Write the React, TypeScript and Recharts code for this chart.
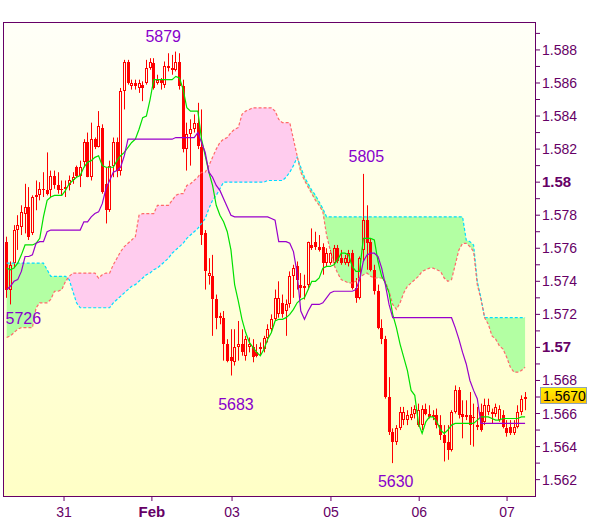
import React from 'react';
import {
  ComposedChart,
  XAxis,
  YAxis,
  Bar,
  Line,
  Area,
  CartesianGrid,
  ReferenceArea,
  ReferenceDot,
} from 'recharts';

// ---------- Data (hourly candles, index 0..141) ----------
const opens = [
  1.5764, 1.5735, 1.5751, 1.5771, 1.5773, 1.5781, 1.5785, 1.5769, 1.5791, 1.5792,
  1.5796, 1.5795, 1.5795, 1.5804, 1.5798, 1.5795, 1.5796, 1.5798, 1.5801, 1.5809,
  1.5804, 1.5812, 1.5824, 1.5803, 1.5826, 1.5821, 1.5833, 1.5799, 1.5783, 1.5810,
  1.5824, 1.5807, 1.5855, 1.5873, 1.5858, 1.5860, 1.5857, 1.5859, 1.5860, 1.5869,
  1.5872, 1.5860, 1.5862, 1.5859, 1.5870, 1.5869, 1.5868, 1.5873, 1.5858, 1.5820,
  1.5829, 1.5832, 1.5836, 1.5821, 1.5769, 1.5743, 1.5743, 1.5729, 1.5718, 1.5718,
  1.5702, 1.5694, 1.5691, 1.5700, 1.5702, 1.5695, 1.5700, 1.5700, 1.5697, 1.5699,
  1.5699, 1.5706, 1.5711, 1.5717, 1.5720, 1.5727, 1.5722, 1.5726, 1.5743, 1.5749,
  1.5738, 1.5736, 1.5738, 1.5762, 1.5764, 1.5761, 1.5761, 1.5751, 1.5751, 1.5751,
  1.5760, 1.5754, 1.5751, 1.5751, 1.5757, 1.5736, 1.5730, 1.5759, 1.5777, 1.5764,
  1.5747, 1.5734, 1.5712, 1.5705, 1.5670, 1.5649, 1.5643, 1.5651, 1.5656, 1.5656,
  1.5657, 1.5660, 1.5653, 1.5653, 1.5663, 1.5660, 1.5658, 1.5659, 1.5653, 1.5647,
  1.5643, 1.5638, 1.5661, 1.5674, 1.5660, 1.5659, 1.5659, 1.5657, 1.5652, 1.5661,
  1.5655, 1.5661, 1.5661, 1.5660, 1.5656, 1.5659, 1.5651, 1.5652, 1.5648, 1.5652,
  1.5661, 1.5669,
];

const highs = [
  1.5767, 1.5752, 1.5774, 1.5780, 1.5786, 1.5799, 1.5797, 1.5792, 1.5801, 1.5800,
  1.5806, 1.5818, 1.5807, 1.5807, 1.5806, 1.5801, 1.5801, 1.5804, 1.5806, 1.5810,
  1.5813, 1.5826, 1.5830, 1.5836, 1.5827, 1.5843, 1.5835, 1.5809, 1.5813, 1.5827,
  1.5827, 1.5857, 1.5874, 1.5874, 1.5862, 1.5862, 1.5862, 1.5861, 1.5874, 1.5875,
  1.5875, 1.5865, 1.5863, 1.5873, 1.5878, 1.5877, 1.5879, 1.5878, 1.5862, 1.5836,
  1.5838, 1.5841, 1.5848, 1.5844, 1.5771, 1.5754, 1.5756, 1.5732, 1.5721, 1.5722,
  1.5705, 1.5711, 1.5711, 1.5716, 1.5711, 1.5707, 1.5706, 1.5705, 1.5702, 1.5703,
  1.5707, 1.5714, 1.5720, 1.5735, 1.5740, 1.5732, 1.5729, 1.5746, 1.5750, 1.5752,
  1.5745, 1.5744, 1.5764, 1.5772, 1.5770, 1.5768, 1.5763, 1.5760, 1.5759, 1.5762,
  1.5762, 1.5759, 1.5756, 1.5759, 1.5759, 1.5742, 1.5755, 1.5805, 1.5786, 1.5766,
  1.5750, 1.5738, 1.5717, 1.5707, 1.5682, 1.5651, 1.5653, 1.5664, 1.5664, 1.5662,
  1.5664, 1.5665, 1.5666, 1.5665, 1.5666, 1.5665, 1.5662, 1.5663, 1.5659, 1.5653,
  1.5653, 1.5662, 1.5677, 1.5676, 1.5668, 1.5668, 1.5673, 1.5666, 1.5664, 1.5666,
  1.5669, 1.5669, 1.5663, 1.5666, 1.5665, 1.5662, 1.5656, 1.5656, 1.5656, 1.5665,
  1.5671, 1.5673,
];

const lows = [
  1.5730, 1.5726, 1.5748, 1.5759, 1.5768, 1.5769, 1.5765, 1.5768, 1.5783, 1.5789,
  1.5791, 1.5792, 1.5791, 1.5796, 1.5793, 1.5792, 1.5791, 1.5795, 1.5799, 1.5803,
  1.5797, 1.5809, 1.5803, 1.5801, 1.5820, 1.5821, 1.5793, 1.5775, 1.5782, 1.5803,
  1.5803, 1.5804, 1.5844, 1.5859, 1.5856, 1.5856, 1.5854, 1.5849, 1.5859, 1.5868,
  1.5856, 1.5859, 1.5856, 1.5857, 1.5867, 1.5865, 1.5867, 1.5856, 1.5818, 1.5807,
  1.5810, 1.5830, 1.5820, 1.5762, 1.5735, 1.5738, 1.5707, 1.5711, 1.5714, 1.5692,
  1.5691, 1.5683, 1.5689, 1.5692, 1.5695, 1.5692, 1.5697, 1.5691, 1.5694, 1.5695,
  1.5697, 1.5703, 1.5709, 1.5716, 1.5718, 1.5718, 1.5707, 1.5724, 1.5730, 1.5735,
  1.5730, 1.5729, 1.5735, 1.5759, 1.5759, 1.5758, 1.5744, 1.5749, 1.5750, 1.5750,
  1.5751, 1.5750, 1.5750, 1.5749, 1.5735, 1.5727, 1.5729, 1.5752, 1.5747, 1.5746,
  1.5732, 1.5711, 1.5702, 1.5669, 1.5647, 1.5630, 1.5641, 1.5650, 1.5653, 1.5653,
  1.5656, 1.5657, 1.5652, 1.5650, 1.5659, 1.5657, 1.5656, 1.5651, 1.5644, 1.5631,
  1.5632, 1.5637, 1.5660, 1.5657, 1.5645, 1.5656, 1.5641, 1.5640, 1.5650, 1.5649,
  1.5653, 1.5659, 1.5654, 1.5658, 1.5655, 1.5651, 1.5646, 1.5647, 1.5647, 1.5651,
  1.5659, 1.5662,
];

const closes = [
  1.5735, 1.5750, 1.5771, 1.5774, 1.5782, 1.5785, 1.5767, 1.5791, 1.5792, 1.5796,
  1.5795, 1.5793, 1.5804, 1.5798, 1.5795, 1.5796, 1.5797, 1.5801, 1.5803, 1.5804,
  1.5809, 1.5824, 1.5803, 1.5826, 1.5821, 1.5834, 1.5794, 1.5783, 1.5810, 1.5824,
  1.5807, 1.5855, 1.5873, 1.5860, 1.5860, 1.5858, 1.5860, 1.5857, 1.5869, 1.5873,
  1.5857, 1.5862, 1.5860, 1.5870, 1.5869, 1.5868, 1.5873, 1.5858, 1.5820, 1.5829,
  1.5832, 1.5836, 1.5822, 1.5768, 1.5746, 1.5745, 1.5729, 1.5718, 1.5719, 1.5702,
  1.5692, 1.5692, 1.5700, 1.5702, 1.5697, 1.5705, 1.5702, 1.5694, 1.5695, 1.5700,
  1.5706, 1.5711, 1.5717, 1.5730, 1.5730, 1.5720, 1.5726, 1.5743, 1.5748, 1.5741,
  1.5736, 1.5737, 1.5764, 1.5760, 1.5761, 1.5759, 1.5751, 1.5757, 1.5757, 1.5760,
  1.5752, 1.5751, 1.5754, 1.5757, 1.5736, 1.5730, 1.5754, 1.5777, 1.5763, 1.5747,
  1.5734, 1.5712, 1.5705, 1.5670, 1.5649, 1.5643, 1.5651, 1.5661, 1.5661, 1.5659,
  1.5660, 1.5663, 1.5662, 1.5663, 1.5660, 1.5658, 1.5659, 1.5653, 1.5647, 1.5642,
  1.5638, 1.5661, 1.5674, 1.5659, 1.5658, 1.5658, 1.5653, 1.5658, 1.5653, 1.5650,
  1.5665, 1.5665, 1.5660, 1.5664, 1.5663, 1.5652, 1.5648, 1.5648, 1.5652, 1.5661,
  1.5669, 1.5670,
];

// Tenkan-sen (green)
const tenkan = [
  1.5748, 1.5747, 1.5748, 1.5751, 1.5756, 1.5762, 1.5762, 1.5762, 1.5763, 1.5766,
  1.5779, 1.5789, 1.5791, 1.5792, 1.5792, 1.5792, 1.5795, 1.5799, 1.5801, 1.5803,
  1.5804, 1.5809, 1.5812, 1.5813, 1.5815, 1.5816, 1.5810, 1.5809, 1.5809, 1.5809,
  1.5813, 1.5816, 1.5818, 1.5821, 1.5824, 1.5826, 1.5832, 1.5839, 1.5840, 1.5850,
  1.5862, 1.5862, 1.5862, 1.5862, 1.5862, 1.5862, 1.5864, 1.5863, 1.5856, 1.5845,
  1.5843, 1.5843, 1.5843, 1.5826, 1.5816, 1.5806, 1.5798, 1.5786, 1.5780, 1.5776,
  1.5770, 1.5759, 1.5738, 1.5728, 1.5717, 1.5709, 1.5703, 1.5700, 1.5697, 1.5695,
  1.5699, 1.5705, 1.5709, 1.5716, 1.5717, 1.5717, 1.5718, 1.5720, 1.5723, 1.5727,
  1.5729, 1.5730, 1.5735, 1.5740, 1.5740, 1.5742, 1.5748, 1.5749, 1.5749, 1.5750,
  1.5753, 1.5757, 1.5757, 1.5756, 1.5749, 1.5746, 1.5746, 1.5766, 1.5766, 1.5766,
  1.5765, 1.5752, 1.5743, 1.5739, 1.5733, 1.5720, 1.5712, 1.5702, 1.5694, 1.5686,
  1.5674, 1.5671, 1.5654, 1.5648, 1.5655, 1.5658, 1.5658, 1.5655, 1.5650, 1.5648,
  1.5650, 1.5653, 1.5654, 1.5654, 1.5654, 1.5654, 1.5654, 1.5654, 1.5656, 1.5658,
  1.5658, 1.5658, 1.5657, 1.5656, 1.5656, 1.5657, 1.5657, 1.5657, 1.5657, 1.5657,
  1.5658, 1.5658,
];

// Kijun-sen (purple)
const kijun = [
  1.5735, 1.5737, 1.5740, 1.5741, 1.5746, 1.5755, 1.5755, 1.5756, 1.5763, 1.5764,
  1.5764, 1.5770, 1.5771, 1.5771, 1.5771, 1.5771, 1.5771, 1.5771, 1.5771, 1.5771,
  1.5771, 1.5776, 1.5776, 1.5779, 1.5781, 1.5782, 1.5787, 1.5796, 1.5801, 1.5806,
  1.5807, 1.5809, 1.5816, 1.5826, 1.5826, 1.5826, 1.5826, 1.5826, 1.5826, 1.5826,
  1.5826, 1.5826, 1.5826, 1.5826, 1.5826, 1.5826, 1.5827, 1.5827, 1.5827, 1.5827,
  1.5827, 1.5827, 1.5830, 1.5824, 1.5818, 1.5806, 1.5803, 1.5798, 1.5795, 1.5790,
  1.5785, 1.5780, 1.5779, 1.5779, 1.5779, 1.5779, 1.5779, 1.5779, 1.5779, 1.5779,
  1.5779, 1.5779, 1.5778, 1.5777, 1.5764, 1.5764, 1.5764, 1.5763, 1.5758, 1.5745,
  1.5722, 1.5717, 1.5722, 1.5726, 1.5726, 1.5726, 1.5727, 1.5730, 1.5733, 1.5734,
  1.5734, 1.5734, 1.5734, 1.5734, 1.5734, 1.5735, 1.5741, 1.5752, 1.5756, 1.5757,
  1.5757, 1.5755, 1.5748, 1.5738, 1.5726, 1.5718, 1.5718, 1.5718, 1.5718, 1.5718,
  1.5718, 1.5718, 1.5718, 1.5718, 1.5718, 1.5718, 1.5718, 1.5718, 1.5718, 1.5718,
  1.5718, 1.5718, 1.5712, 1.5705, 1.5697, 1.5690, 1.5680, 1.5674, 1.5669, 1.5654,
  1.5654, 1.5654, 1.5654, 1.5654, 1.5654, 1.5654, 1.5654, 1.5654, 1.5654, 1.5654,
  1.5654, 1.5654,
];

// Senkou span A (cyan dotted edge)
const spanA = [
  1.5751, 1.5751, 1.5751, 1.5751, 1.5751, 1.5751, 1.5751, 1.5751, 1.5751, 1.5751,
  1.5751, 1.5747, 1.5743, 1.5743, 1.5743, 1.5743, 1.5743, 1.5741, 1.5734, 1.5727,
  1.5724, 1.5724, 1.5724, 1.5724, 1.5724, 1.5724, 1.5724, 1.5724, 1.5724, 1.5727,
  1.5729, 1.5731, 1.5733, 1.5735, 1.5737, 1.5738, 1.5740, 1.5742, 1.5744, 1.5745,
  1.5747, 1.5748, 1.5750, 1.5752, 1.5754, 1.5757, 1.5759, 1.5761, 1.5763, 1.5766,
  1.5768, 1.5770, 1.5772, 1.5775, 1.5778, 1.5784, 1.5789, 1.5792, 1.5796, 1.5800,
  1.5800, 1.5800, 1.5800, 1.5800, 1.5800, 1.5800, 1.5800, 1.5800, 1.5800, 1.5800,
  1.5800, 1.5801, 1.5801, 1.5801, 1.5801, 1.5801, 1.5803, 1.5806, 1.5810, 1.5815,
  1.5809, 1.5803, 1.5799, 1.5795, 1.5792, 1.5788, 1.5784, 1.5779, 1.5779, 1.5779,
  1.5779, 1.5779, 1.5779, 1.5779, 1.5779, 1.5779, 1.5779, 1.5779, 1.5779, 1.5779,
  1.5779, 1.5779, 1.5779, 1.5779, 1.5779, 1.5779, 1.5779, 1.5779, 1.5779, 1.5779,
  1.5779, 1.5779, 1.5779, 1.5779, 1.5779, 1.5779, 1.5779, 1.5779, 1.5779, 1.5779,
  1.5779, 1.5779, 1.5779, 1.5779, 1.5779, 1.5765, 1.5764, 1.5762, 1.5740, 1.5730,
  1.5718, 1.5718, 1.5718, 1.5718, 1.5718, 1.5718, 1.5718, 1.5718, 1.5718, 1.5718,
  1.5718, 1.5718,
];

// Senkou span B (salmon dotted edge)
const spanB = [
  1.5706, 1.5707, 1.5709, 1.5711, 1.5712, 1.5712, 1.5712, 1.5712, 1.5724, 1.5727,
  1.5727, 1.5727, 1.5729, 1.5734, 1.5734, 1.5735, 1.5740, 1.5743, 1.5745, 1.5745,
  1.5745, 1.5745, 1.5745, 1.5745, 1.5745, 1.5742, 1.5744, 1.5745, 1.5745, 1.5750,
  1.5754, 1.5758, 1.5761, 1.5763, 1.5765, 1.5767, 1.5780, 1.5781, 1.5781, 1.5781,
  1.5781, 1.5786, 1.5786, 1.5786, 1.5786, 1.5789, 1.5792, 1.5793, 1.5793, 1.5798,
  1.5799, 1.5801, 1.5803, 1.5806, 1.5806, 1.5810, 1.5815, 1.5820, 1.5824, 1.5826,
  1.5827, 1.5830, 1.5832, 1.5833, 1.5841, 1.5843, 1.5844, 1.5845, 1.5845, 1.5845,
  1.5845, 1.5845, 1.5845, 1.5843, 1.5838, 1.5836, 1.5836, 1.5836, 1.5826, 1.5816,
  1.5806, 1.5801, 1.5797, 1.5793, 1.5789, 1.5786, 1.5782, 1.5768, 1.5759, 1.5750,
  1.5745, 1.5741, 1.5740, 1.5739, 1.5739, 1.5740, 1.5742, 1.5744, 1.5745, 1.5743,
  1.5742, 1.5742, 1.5742, 1.5740, 1.5734, 1.5726, 1.5723, 1.5727, 1.5733, 1.5737,
  1.5739, 1.5741, 1.5743, 1.5746, 1.5747, 1.5748, 1.5748, 1.5747, 1.5746, 1.5742,
  1.5740, 1.5741, 1.5750, 1.5759, 1.5763, 1.5763, 1.5761, 1.5758, 1.5738, 1.5729,
  1.5718, 1.5714, 1.5707, 1.5705, 1.5701, 1.5699, 1.5694, 1.5688, 1.5685, 1.5685,
  1.5686, 1.5688,
];

// Axis ticks
const xTickValues = [15.6, 39.5, 61.3, 88.2, 112.2, 136.1];
const xTickLabels = ['31', 'Feb', '03', '05', '06', '07'];
const xBoldLabels = ['Feb'];
const yTickValues = [
  1.562, 1.563, 1.564, 1.565, 1.566, 1.567, 1.568, 1.569, 1.57, 1.571, 1.572, 1.573, 1.574,
  1.575, 1.576, 1.577, 1.578, 1.579, 1.58, 1.581, 1.582, 1.583, 1.584, 1.585, 1.586, 1.587,
  1.588, 1.589,
];

// Extreme annotations
const extremeIndex = [46, 1, 97, 61, 105];
const extremePrice = [1.5879, 1.5726, 1.5805, 1.5683, 1.563];
const extremeText = ['5879', '5726', '5805', '5683', '5630'];

// ---------- Styling ----------
const X_DOMAIN: [number, number] = [-1, 143.7];
const Y_DOMAIN: [number, number] = [1.56101, 1.58969];
const labelDx = [-12.6, 13, 3, 5, 3];
const labelDy = [-9.6, 19.5, -12, 34.5, 24];
const FONT = "'Liberation Sans', Arial, Helvetica, sans-serif";
const AXIS = '#660066';
const RED = '#FF0000';
const GREEN_LINE = '#00E000';
const PURPLE = '#9900CC';
const CYAN = '#00DDFF';
const SALMON = '#FF6A6A';
const GREEN_FILL = '#B3FFA3';
const PINK_FILL = '#FFCCEE';
const LABEL_PURPLE = '#8800CC';

const data = opens.map((o, i) => {
  const a = spanA[i];
  const b = spanB[i];
  return {
    i,
    o,
    h: highs[i],
    l: lows[i],
    c: closes[i],
    range: [lows[i], highs[i]],
    tenkan: tenkan[i],
    kijun: kijun[i],
    spanA: a,
    spanB: b,
    greenBand: a >= b ? [b, a] : [a, a],
    pinkBand: b > a ? [a, b] : [b, b],
  };
});

const lastPrice = closes[closes.length - 1];

const CandleShape = (props: any) => {
  const { x, y, width, height, payload } = props;
  if (!payload || height == null || isNaN(height)) return <g />;
  const { o, h, l, c } = payload;
  const cx = Math.round(x + width / 2);
  const span = h - l || 1;
  const toY = (p: number) => y + ((h - p) / span) * height;
  const yHigh = y;
  const yLow = y + height;
  const yTop = Math.round(toY(Math.max(o, c)));
  const yBot = Math.round(toY(Math.min(o, c)));
  const wx = cx + 0.5;
  if (c < o || yBot - yTop < 2) {
    return (
      <g>
        <line x1={wx} x2={wx} y1={yHigh} y2={yLow} stroke={RED} strokeWidth={1} />
        <rect x={cx - 1} y={yTop} width={3} height={Math.max(1, yBot - yTop)} fill={RED} />
      </g>
    );
  }
  return (
    <g>
      <line x1={wx} x2={wx} y1={yHigh} y2={yTop} stroke={RED} strokeWidth={1} />
      <line x1={wx} x2={wx} y1={yBot} y2={yLow} stroke={RED} strokeWidth={1} />
      <rect
        x={cx - 0.5}
        y={yTop + 0.5}
        width={2}
        height={Math.max(1, yBot - yTop - 1)}
        fill="none"
        stroke={RED}
        strokeWidth={1}
      />
    </g>
  );
};

const renderYTick = (props: any) => {
  const { x, y, payload } = props;
  const k = Math.round(payload.value * 1000);
  if (k % 2 !== 0) return <g />;
  const major = k % 10 === 0;
  return (
    <text
      x={x}
      y={y + 5}
      fill={AXIS}
      fontSize={major ? 15 : 14}
      fontWeight={major ? 'bold' : 'normal'}
      fontFamily={FONT}
      textAnchor="start"
    >
      {major ? (k / 1000).toFixed(2) : (k / 1000).toFixed(3)}
    </text>
  );
};

const renderXTick = (props: any) => {
  const { x, y, payload } = props;
  const idx = xTickValues.indexOf(payload.value);
  const label = idx >= 0 ? xTickLabels[idx] : '';
  const bold = xBoldLabels.includes(label);
  return (
    <text
      x={x}
      y={y + 14}
      fill={AXIS}
      fontSize={bold ? 15 : 14}
      fontWeight={bold ? 'bold' : 'normal'}
      fontFamily={FONT}
      textAnchor="middle"
    >
      {label}
    </text>
  );
};

const makeExtremeShape = (k: number) => (p: any) => (
  <text
    x={p.cx + labelDx[k]}
    y={p.cy + labelDy[k]}
    fill={LABEL_PURPLE}
    fontSize={16}
    fontFamily={FONT}
    textAnchor="middle"
  >
    {extremeText[k]}
  </text>
);

const priceTagShape = (p: any) => (
  <g>
    <rect
      x={p.cx + 5.5}
      y={p.cy - 9.5}
      width={46}
      height={16}
      fill="url(#tagGrad)"
      stroke="#8FA3B8"
      strokeWidth={1}
    />
    <text x={p.cx + 8} y={p.cy + 4} fill="#000000" fontSize={14} fontFamily={FONT} textAnchor="start">
      {lastPrice.toFixed(4)}
    </text>
  </g>
);

const borderShape = (p: any) => (
  <rect x={p.x + 0.5} y={p.y + 0.5} width={p.width} height={p.height} fill="none" stroke={AXIS} strokeWidth={1} />
);

export default function App() {
  return (
    <div style={{ position: 'absolute', left: 0, top: 0, width: 600, height: 519, background: '#FFFFFF' }}>
      <ComposedChart
        width={600}
        height={519}
        data={data}
        margin={{ top: 22, right: 3, bottom: 0, left: 3 }}
      >
        <defs>
          <linearGradient id="bgGrad" x1="0" y1="0" x2="0" y2="1">
            <stop offset="0%" stopColor="#FFFFF8" />
            <stop offset="100%" stopColor="#FFFFC6" />
          </linearGradient>
          <linearGradient id="tagGrad" x1="0" y1="0" x2="0" y2="1">
            <stop offset="0%" stopColor="#FFF200" />
            <stop offset="100%" stopColor="#FFC400" />
          </linearGradient>
        </defs>
        <CartesianGrid fill="url(#bgGrad)" horizontal={false} vertical={false} />
        <XAxis
          dataKey="i"
          type="number"
          domain={X_DOMAIN}
          allowDataOverflow
          ticks={xTickValues}
          interval={0}
          tick={renderXTick}
          tickSize={5}
          tickLine={{ stroke: AXIS }}
          axisLine={false}
          height={23}
        />
        <YAxis
          orientation="right"
          type="number"
          domain={Y_DOMAIN}
          allowDataOverflow
          ticks={yTickValues}
          interval={0}
          tick={renderYTick}
          tickSize={5}
          tickLine={{ stroke: AXIS }}
          axisLine={false}
          width={62}
        />
        <Area
          dataKey="greenBand"
          stroke="none"
          fill={GREEN_FILL}
          fillOpacity={1}
          isAnimationActive={false}
          dot={false}
          activeDot={false}
          type="linear"
        />
        <Area
          dataKey="pinkBand"
          stroke="none"
          fill={PINK_FILL}
          fillOpacity={1}
          isAnimationActive={false}
          dot={false}
          activeDot={false}
          type="linear"
        />
        <Line
          dataKey="spanA"
          stroke={CYAN}
          strokeWidth={1.2}
          strokeDasharray="3 2"
          dot={false}
          activeDot={false}
          isAnimationActive={false}
          type="linear"
        />
        <Line
          dataKey="spanB"
          stroke={SALMON}
          strokeWidth={1.2}
          strokeDasharray="3 2"
          dot={false}
          activeDot={false}
          isAnimationActive={false}
          type="linear"
        />
        <Bar dataKey="range" barSize={3} shape={CandleShape} isAnimationActive={false} />
        <Line
          dataKey="tenkan"
          stroke={GREEN_LINE}
          strokeWidth={1.2}
          dot={false}
          activeDot={false}
          isAnimationActive={false}
          type="linear"
        />
        <Line
          dataKey="kijun"
          stroke={PURPLE}
          strokeWidth={1.2}
          dot={false}
          activeDot={false}
          isAnimationActive={false}
          type="linear"
        />
        <ReferenceArea
          x1={X_DOMAIN[0]}
          x2={X_DOMAIN[1]}
          y1={Y_DOMAIN[0]}
          y2={Y_DOMAIN[1]}
          shape={borderShape}
          ifOverflow="visible"
        />
        {extremeIndex.map((xi, k) => (
          <ReferenceDot
            key={extremeText[k]}
            x={xi}
            y={extremePrice[k]}
            r={0}
            ifOverflow="visible"
            shape={makeExtremeShape(k)}
          />
        ))}
        <ReferenceDot x={X_DOMAIN[1]} y={lastPrice} r={0} ifOverflow="visible" shape={priceTagShape} />
      </ComposedChart>
    </div>
  );
}
